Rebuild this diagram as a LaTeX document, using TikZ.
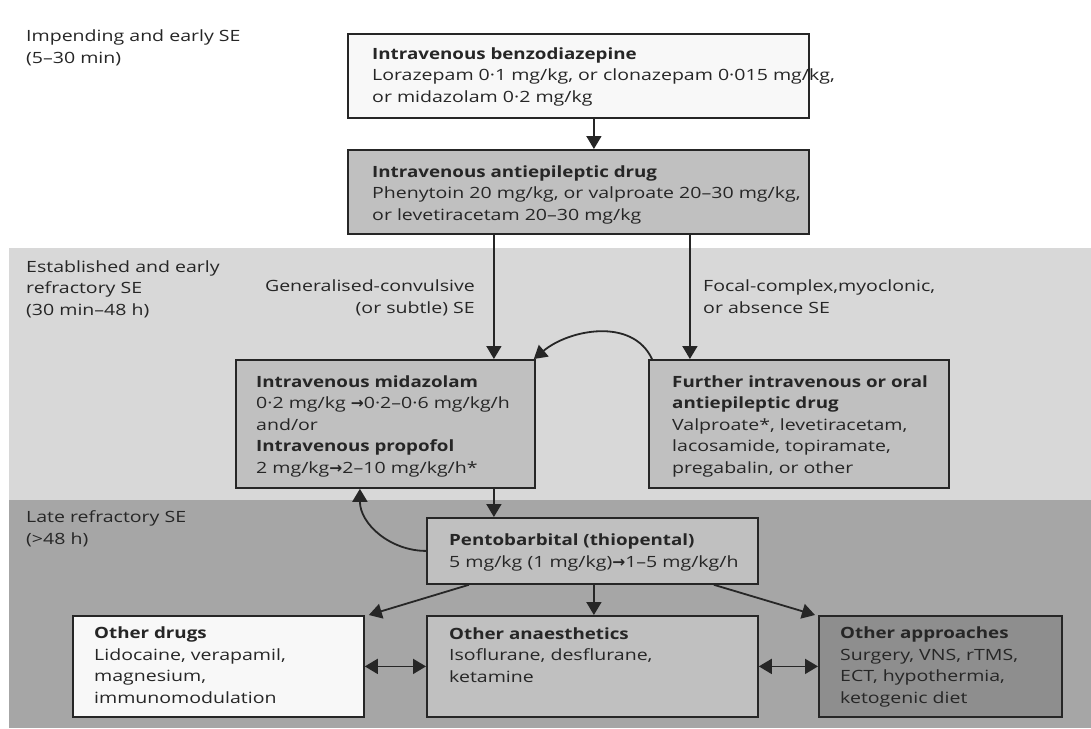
\documentclass[tikz,border=0pt]{standalone}
\usepackage{fontspec}
\setmainfont[FakeStretch=1.26, BoldFeatures={FakeStretch=1.21}]{Open Sans}
\newfontfamily\arrowfont{DejaVu Sans}
\usepackage{xcolor}
\usetikzlibrary{arrows.meta}
\definecolor{boxline}{HTML}{262626}
\definecolor{bandlight}{HTML}{D8D8D8}
\definecolor{banddark}{HTML}{A6A6A6}
\definecolor{fillwhite}{HTML}{F8F8F8}
\definecolor{fillmid}{HTML}{C0C0C0}
\definecolor{filldark}{HTML}{8E8E8E}
\newcommand{\doseto}{{\arrowfont\bfseries →}}

\begin{document}
\begin{tikzpicture}[x=1pt,y=1pt,
  font=\fontsize{15.5}{21.5}\selectfont,
  >={Triangle[width=15pt,length=13pt]},
  block/.style={draw=boxline, line width=1.8pt, rectangle, inner sep=0pt, anchor=north west},
  note/.style={inner sep=0pt, anchor=base west, align=left, text=boxline},
  flow/.style={->, draw=boxline, line width=1.8pt},
  twoway/.style={<->, draw=boxline, line width=1.8pt}]
\useasboundingbox (0,0) rectangle (1091,-728);
\fill[white] (0,0) rectangle (1091,-728);
% stages (notes sit on the baseline of their last line)
\fill[bandlight] (9,-248) rectangle (1091,-500);
\fill[banddark] (9,-500) rectangle (1091,-728);
\node[note] (early) at (26,-63) {Impending and early SE\\(5–30 min)};
\node[note] (established) at (26,-315) {Established and early\\refractory SE\\(30 min–48 h)};
\node[note] (late) at (26,-544) {Late refractory SE\\(>48 h)};
% boxes
\node[block, fill=fillwhite, minimum width=461pt, minimum height=84pt] (benzo) at (347,-33) {};
\node[block, fill=fillmid, minimum width=461pt, minimum height=84pt] (aed) at (347,-149) {};
\node[block, fill=fillmid, minimum width=299pt, minimum height=128pt] (mida) at (235,-359) {};
\node[block, fill=fillmid, minimum width=300pt, minimum height=128pt] (further) at (648,-359) {};
\node[block, fill=fillmid, minimum width=331pt, minimum height=66pt] (pento) at (426,-517) {};
\node[block, fill=fillwhite, minimum width=291pt, minimum height=101pt] (drugs) at (72,-615) {};
\node[block, fill=fillmid, minimum width=331pt, minimum height=101pt] (anaes) at (426,-615) {};
\node[block, fill=filldark, minimum width=243pt, minimum height=101pt] (approaches) at (818,-615) {};
% box texts
\node[note] (benzotext) at ([shift={(25,-69)}]benzo.north west)
  {\textbf{Intravenous benzodiazepine}\\Lorazepam 0·1 mg/kg, or clonazepam 0·015 mg/kg,\\or midazolam 0·2 mg/kg};
\node[note] (aedtext) at ([shift={(25,-71)}]aed.north west)
  {\textbf{Intravenous antiepileptic drug}\\Phenytoin 20 mg/kg, or valproate 20–30 mg/kg,\\or levetiracetam 20–30 mg/kg};
\node[note] (midatext) at ([shift={(21,-114)}]mida.north west)
  {\textbf{Intravenous midazolam}\\0·2 mg/kg \doseto0·2–0·6 mg/kg/h\\and/or\\\textbf{Intravenous propofol}\\2 mg/kg\doseto2–10 mg/kg/h*};
\node[note] (furthertext) at ([shift={(24,-114)}]further.north west)
  {\textbf{Further intravenous or oral}\\\textbf{antiepileptic drug}\\Valproate*, levetiracetam,\\lacosamide, topiramate,\\pregabalin, or other};
\node[note] (pentotext) at ([shift={(23,-50)}]pento.north west)
  {\textbf{Pentobarbital (thiopental)}\\5 mg/kg (1 mg/kg)\doseto1–5 mg/kg/h};
\node[note] (drugstext) at ([shift={(22,-88)}]drugs.north west)
  {\textbf{Other drugs}\\Lidocaine, verapamil,\\magnesium,\\immunomodulation};
\node[note] (anaestext) at ([shift={(23,-67)}]anaes.north west)
  {\textbf{Other anaesthetics}\\Isoflurane, desflurane,\\ketamine};
\node[note] (approachestext) at ([shift={(22,-88)}]approaches.north west)
  {\textbf{Other approaches}\\Surgery, VNS, rTMS,\\ECT, hypothermia,\\ketogenic diet};
% branch labels
\node[note, anchor=base east, align=right] (generalised) at (475,-313) {Generalised-convulsive\\(or subtle) SE};
\node[note] (focal) at (703,-313) {Focal-complex,myoclonic,\\or absence SE};
% connectors
\draw[flow] ([xshift=15.5pt]benzo.south) -- ([xshift=15.5pt]aed.north);
\draw[flow] ([xshift=-84.5pt]aed.south) -- ([xshift=-84.5pt]aed.south |- mida.north);
\draw[flow] ([xshift=111.5pt]aed.south) -- ([xshift=111.5pt]aed.south |- further.north);
\draw[flow] ([xshift=4pt]further.north west) to[out=115, in=40] ([xshift=-2pt]mida.north east);
\draw[flow] ([xshift=108.5pt]mida.south) -- ([xshift=108.5pt]mida.south |- pento.north);
\draw[flow] (pento.west) to[out=180, in=-90] ([xshift=-25.5pt]mida.south);
\draw[flow] ([xshift=-123.5pt]pento.south) -- ([xshift=4pt]drugs.north east);
\draw[flow] ([xshift=1.5pt]pento.south) -- ([xshift=1.5pt]anaes.north);
\draw[flow] ([xshift=121.5pt]pento.south) -- ([xshift=-3pt]approaches.north west);
\draw[twoway] (drugs.east) -- (anaes.west);
\draw[twoway] (anaes.east) -- (approaches.west);
\end{tikzpicture}
\end{document}
